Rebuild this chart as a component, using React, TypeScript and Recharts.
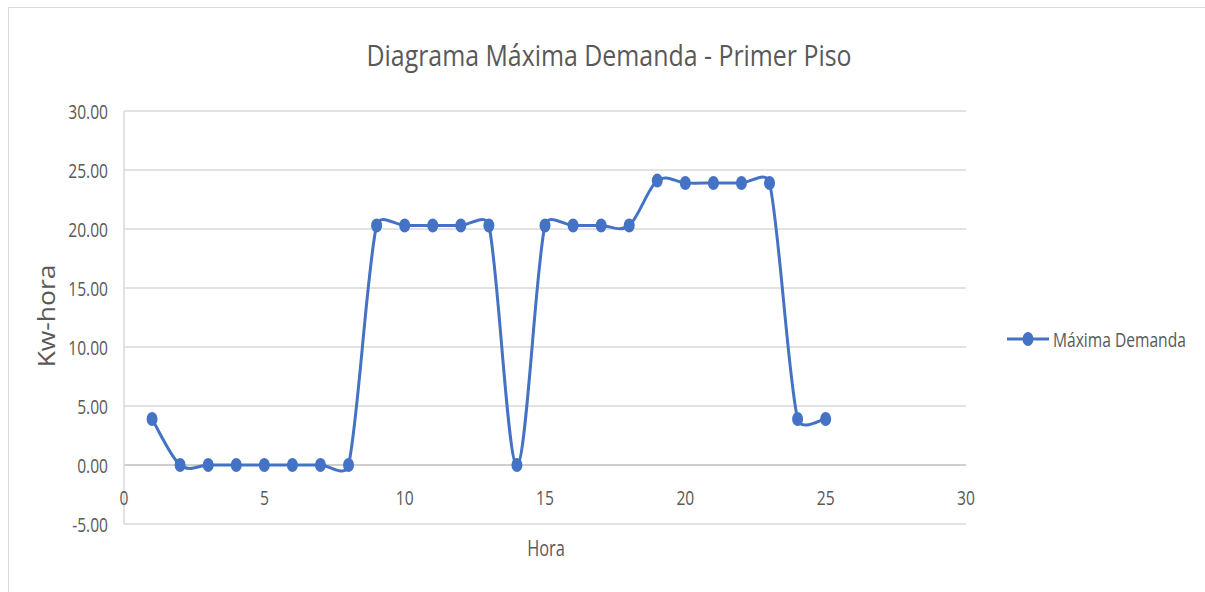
import React from 'react';
import { LineChart, Line, XAxis, YAxis, CartesianGrid, ReferenceLine } from 'recharts';

const hours = [1, 2, 3, 4, 5, 6, 7, 8, 9, 10, 11, 12, 13, 14, 15, 16, 17, 18, 19, 20, 21, 22, 23, 24, 25];
const demand = [3.9, 0, 0, 0, 0, 0, 0, 0, 20.3, 20.3, 20.3, 20.3, 20.3, 0, 20.3, 20.3, 20.3, 20.3, 24.1, 23.9, 23.9, 23.9, 23.9, 3.9, 3.9];
const xTicks = [0, 5, 10, 15, 20, 25, 30];
const yTicks = [-5, 0, 5, 10, 15, 20, 25, 30];

const data = hours.map((h, i) => ({ hora: h, demanda: demand[i] }));

const BLUE = '#4472c4';
const TEXT = '#595959';
const FONT = '"Open Sans", sans-serif';

// Excel-like smoothed line: Bezier arms capped at half the segment length
const excelSmooth = (context: any) => {
  let pts: number[][] = [];
  const dist = (a: number[], b: number[]) => Math.hypot(b[0] - a[0], b[1] - a[1]);
  return {
    areaStart() {},
    areaEnd() {},
    lineStart() {
      pts = [];
    },
    point(x: number, y: number) {
      pts.push([+x, +y]);
    },
    lineEnd() {
      const n = pts.length;
      if (!n) return;
      context.moveTo(pts[0][0], pts[0][1]);
      for (let i = 0; i < n - 1; i++) {
        const p0 = pts[Math.max(i - 1, 0)];
        const p1 = pts[i];
        const p2 = pts[i + 1];
        const p3 = pts[Math.min(i + 2, n - 1)];
        const d12 = dist(p1, p2);
        const d02 = dist(p0, p2);
        const d13 = dist(p1, p3);
        const f = d02 > 0 && d02 / 6 >= d12 / 2 ? d12 / (2 * d02) : 1 / 6;
        const g = d13 > 0 && d13 / 6 >= d12 / 2 ? d12 / (2 * d13) : 1 / 6;
        context.bezierCurveTo(
          p1[0] + (p2[0] - p0[0]) * f,
          p1[1] + (p2[1] - p0[1]) * f,
          p2[0] - (p3[0] - p1[0]) * g,
          p2[1] - (p3[1] - p1[1]) * g,
          p2[0],
          p2[1]
        );
      }
    },
  };
};

// narrow text, like the squeezed Excel export
const CText = ({ x, y, children, size = 20, sx = 0.78, anchor = 'middle', rotate = 0 }: any) => (
  <text
    transform={`translate(${x},${y}) rotate(${rotate}) scale(${sx},1)`}
    textAnchor={anchor}
    dominantBaseline="central"
    fontFamily={FONT}
    fontSize={size}
    fill={TEXT}
  >
    {children}
  </text>
);

const XTick = ({ x, y, payload }: any) => (
  <CText x={x} y={y - 35} size={20}>
    {payload.value}
  </CText>
);

const YTick = ({ x, y, payload }: any) => (
  <CText x={x} y={y} size={20} anchor="end">
    {payload.value.toFixed(2)}
  </CText>
);

const Marker = ({ cx, cy, index }: any) =>
  cx == null || cy == null ? null : <ellipse key={index} cx={cx} cy={cy} rx={5.5} ry={7} fill={BLUE} />;

export default function App() {
  return (
    <div style={{ position: 'absolute', left: 0, top: 0, width: 1205, height: 592, background: '#fff', overflow: 'hidden' }}>
      <div
        style={{
          position: 'absolute',
          left: 8,
          top: 7,
          width: 1205,
          height: 600,
          borderLeft: '1px solid #d9d9d9',
          borderTop: '1px solid #d9d9d9',
        }}
      />
      <svg style={{ position: 'absolute', left: 0, top: 0 }} width={1205} height={592}>
        <CText x={609} y={55} size={30} sx={0.83}>
          Diagrama Máxima Demanda - Primer Piso
        </CText>
        <CText x={546} y={548} size={21}>
          Hora
        </CText>
        <CText x={46} y={316} size={23} sx={1.15} rotate={-90}>
          Kw-hora
        </CText>
        {/* legend */}
        <line x1={1007} y1={339} x2={1049} y2={339} stroke={BLUE} strokeWidth={3} />
        <ellipse cx={1028} cy={339} rx={5.5} ry={7} fill={BLUE} />
        <CText x={1053} y={339} size={20} anchor="start">
          Máxima Demanda
        </CText>
      </svg>
      <div style={{ position: 'absolute', left: 0, top: 0 }}>
        <LineChart width={1205} height={592} data={data} margin={{ top: 111, right: 239, left: 0, bottom: 38 }}>
          <CartesianGrid horizontal vertical={false} stroke="#d9d9d9" strokeWidth={1.5} />
          <XAxis
            dataKey="hora"
            type="number"
            domain={[0, 30]}
            ticks={xTicks}
            axisLine={false}
            tickLine={false}
            height={30}
            tick={<XTick />}
            interval={0}
          />
          <YAxis
            type="number"
            domain={[-5, 30]}
            ticks={yTicks}
            axisLine={{ stroke: '#d9d9d9', strokeWidth: 1.5 }}
            tickLine={false}
            width={124}
            tickMargin={10}
            tick={<YTick />}
            interval={0}
          />
          <ReferenceLine y={0} stroke="#c8c8c8" strokeWidth={1.5} />
          <Line
            type={excelSmooth as any}
            dataKey="demanda"
            stroke={BLUE}
            strokeWidth={3}
            dot={<Marker />}
            activeDot={false}
            isAnimationActive={false}
          />
        </LineChart>
      </div>
    </div>
  );
}
